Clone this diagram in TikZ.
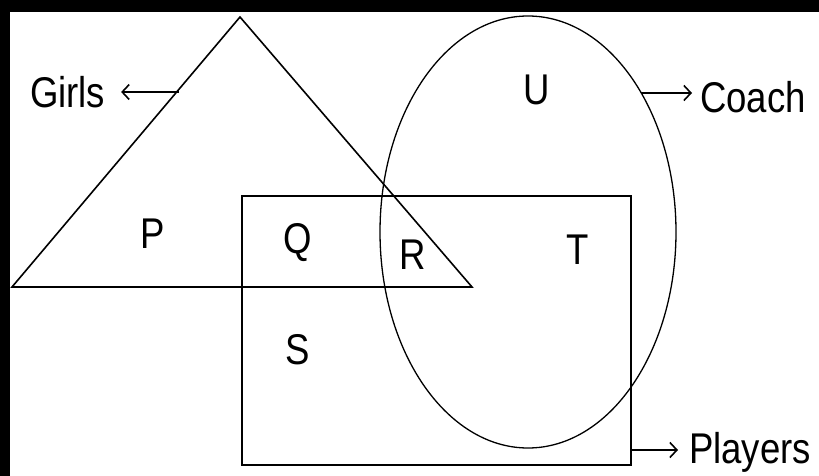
\documentclass[tikz,border=0pt]{standalone}
\usepackage{fontspec}
\setmainfont{Liberation Sans}[FakeStretch=0.85]
\usetikzlibrary{arrows.meta}
\begin{document}
\begin{tikzpicture}[
  x=1pt, y=-1pt,
  region/.style={font=\fontsize{43}{43}\selectfont, inner sep=0pt},
  tag/.style={font=\fontsize{43}{43}\selectfont, inner sep=0pt, anchor=base west},
  pointer/.style={-{Straight Barb[length=7pt,width=15pt]}, line width=1.6pt}
]
\useasboundingbox (0,0) rectangle (819,476);
\fill[white] (0,0) rectangle (819,476);

% ── scanned edges of the page ───────────────────────────────────────
\fill[black] (0,0) rectangle (819,12);
\fill[black] (0,0) rectangle (10,476);

% ── the three sets ──────────────────────────────────────────────────
\draw[line width=1.6pt] (240,17) -- (12,287) -- (472,287) -- cycle;
\draw[line width=2.2pt] (242,196) rectangle (631,465);
\draw[line width=1.3pt] (528,232) ellipse (148 and 216);

\coordinate (girlsfoot) at (179,92);
\coordinate (coachfoot) at (641,93);
\coordinate (playersfoot) at (631,450);

% ── set names ───────────────────────────────────────────────────────
\node[tag, outer xsep=16pt] (girls) at (14,108) {Girls};
\node[tag, outer xsep=8pt] (coach) at (692,113) {Coach};
\node[tag, outer xsep=11pt] (players) at (678,463) {Players};

\draw[pointer] (girlsfoot) -- (girlsfoot -| girls.east);
\draw[pointer] (coachfoot) -- (coachfoot -| coach.west);
\draw[pointer] (playersfoot) -- (playersfoot -| players.west);

% ── regions ─────────────────────────────────────────────────────────
\node[region] (p) at (153,234) {P};
\node[region] (q) at (298,243) {Q};
\node[region] (r) at (413,255) {R};
\node[region] (t) at (578,250) {T};
\node[region] (s) at (298,350) {S};
\node[region] (u) at (537,90) {U};

\end{tikzpicture}
\end{document}
